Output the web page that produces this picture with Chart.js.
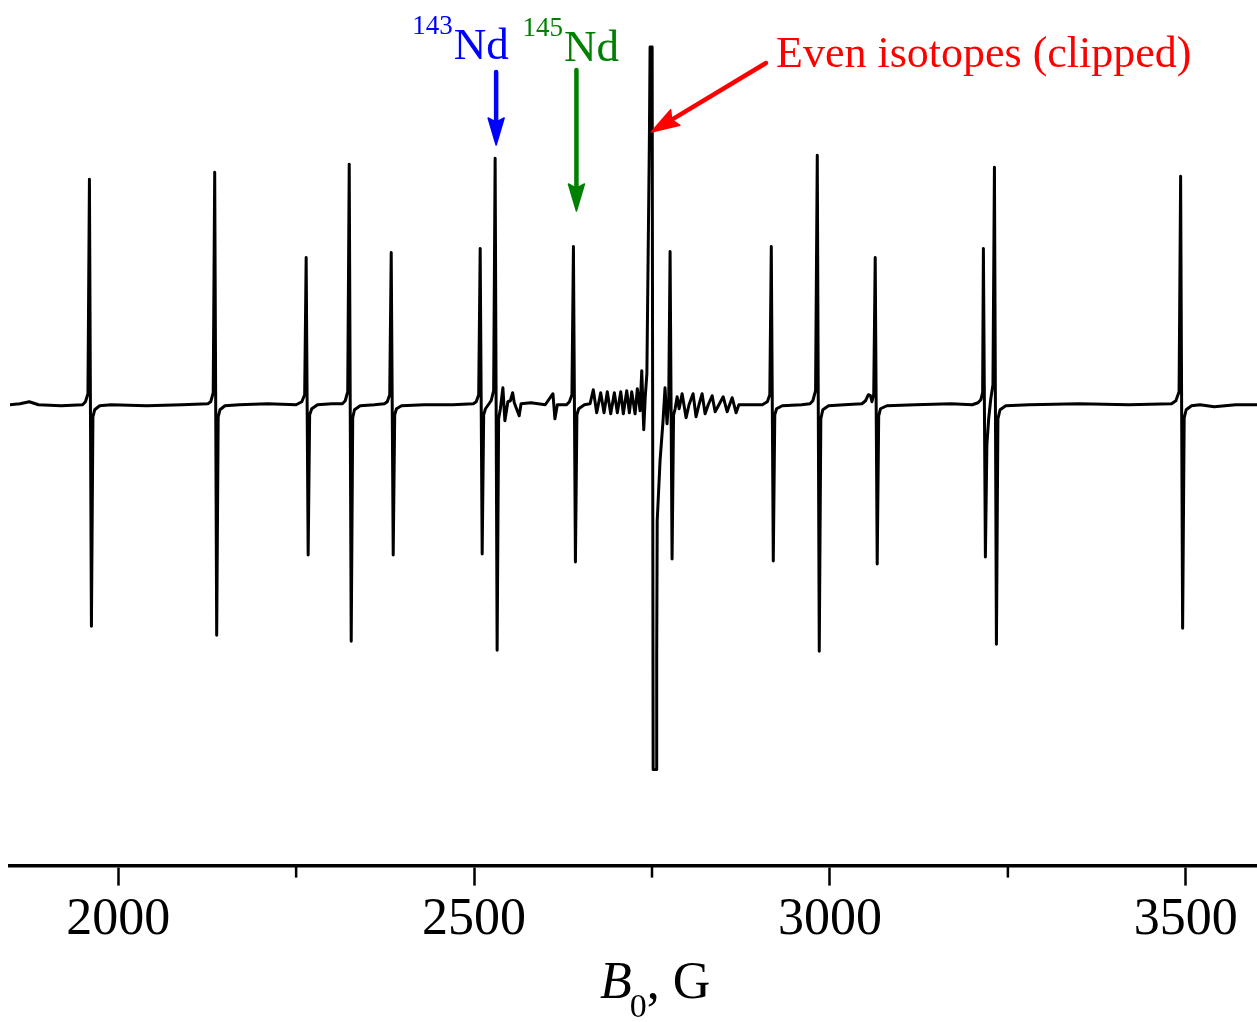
<!DOCTYPE html>
<html>
<head>
<meta charset="utf-8">
<script src="https://cdn.jsdelivr.net/npm/chart.js@4.4.1/dist/chart.umd.min.js"></script>
<style>
  html, body { margin: 0; padding: 0; background: #fff; }
  #wrap { width: 1257px; height: 1022px; }
</style>
</head>
<body>
<div id="wrap"><canvas id="eprChart"></canvas></div>
<script>
// EPR spectrum: field in G, signal in arbitrary units (0 = baseline)

// 1848-2500 G: lines at 1961, 2137, 2265, 2326, 2385
const lowField = [1848, 1862, 1875, 1888, 1920, 1950,
  1954, 1957.5, 1959.6, 1962.4, 1964.5, 1967, 1974, 1990, 2040, 2090,
  2126, 2130, 2133.5, 2135.6, 2138.4, 2140.5, 2143, 2150, 2170, 2210, 2250,
  2258, 2262, 2264.1, 2266.9, 2269, 2272, 2280, 2300,
  2315, 2319, 2322.5, 2324.6, 2327.4, 2329.5, 2332, 2340, 2360,
  2374, 2378, 2381.5, 2383.6, 2386.4, 2388.5, 2391, 2398, 2430, 2470];
const lowSignal = [0, 1, 3, 0, -1, 0,
  3, 11, 225, -221, -12, -5, -1, 0, -1, 0,
  1, 3, 12, 232, -230, -12, -5, -1, 0, 1, 0,
  3, 10, 147, -150, -10, -4, 0, 1,
  1, 4, 13, 240, -236, -13, -5, -1, 0,
  1, 3, 10, 152, -150, -10, -4, -1, 0, 0];

// 2500-2900 G: 143Nd / 145Nd lines, hyperfine wiggles and the clipped even-isotope line
const midField = [2499, 2503, 2506.5, 2508.6, 2511.4, 2513.5, 2516, 2521,
  2524, 2527.5, 2529.6, 2532.4, 2534.5, 2537,
  2540.5, 2543.3, 2547.5, 2551, 2554.2, 2556.5, 2563.4, 2566, 2580, 2600, 2610.8, 2613.6, 2617, 2630,
  2634, 2637.5, 2639.6, 2642.4, 2644.5, 2647, 2655, 2663,
  2667.5, 2672.3, 2677.9, 2682.6, 2687.2, 2692, 2697.1, 2701.3, 2706.1, 2709.7,
  2714.5, 2718.2, 2721.5, 2726.2, 2729.4, 2733.2, 2735.6, 2738.4, 2740.5, 2742.8, 2746.3,
  2747.3, 2750.2, 2751.6, 2755.8, 2756.6, 2757.3, 2761.3, 2765.5, 2768.3, 2771.1, 2773.5,
  2775.4, 2778.2, 2780.3, 2782.5, 2785.3, 2788.1, 2792.3, 2797.9, 2802, 2807.7, 2811.9, 2816,
  2820.4, 2824.6, 2829, 2834.5, 2838.7, 2844, 2850, 2855.6, 2859, 2862.6, 2868.2, 2872, 2876.7, 2895];
const midSignal = [1, 3, 10, 156, -149, -10, -4, 1,
  4, 14, 246, -245, -14, -4,
  17, -16, 3, 4, 12, 2, -11, 1, 2, 0, 11, -14, 0, 0,
  3, 10, 158, -157, -10, -4, 0, 1,
  15, -8, 12, -8, 13, -9, 12, -8, 13, -9,
  14, -8, 13, -9, 16, -6, 34, -25, 8, 31, 264,
  357, 357, -364, -364, -250, -116, -56, -16, 17, -19, 5,
  153, -154, -10, -4, 8, -4, 11, -13, 0, 11, -12, 0,
  11, -9, 0, 9, -7, 0, 8, -7, 0, 7, -8, 0, 0, 0];

// 2900-3600 G: lines at 2919, 2984, 3065, 3217, 3232, 3494
const highField = [2905, 2912, 2915.5, 2917.6, 2920.4, 2922.5, 2925, 2933, 2960,
  2972, 2976, 2979.8, 2982.2, 2985, 2987.2, 2990, 2998, 3020, 3045,
  3050, 3054, 3057, 3059, 3061.5, 3063.6, 3066.4, 3068.5, 3071, 3080, 3120, 3170, 3200,
  3208, 3212, 3214.5, 3215.6, 3218.4, 3220.5, 3223, 3226, 3229, 3231.1, 3233.9, 3236, 3239, 3247,
  3280, 3350, 3420,
  3480, 3486, 3490.5, 3492.7, 3495.5, 3497.7, 3500.5, 3508, 3520, 3540, 3570, 3600];
const highSignal = [0, 3, 10, 158, -156, -10, -4, -1, 0,
  1, 4, 14, 249, -246, -14, -5, -1, 0, 1,
  4, 10, 9, 3, 10, 147, -159, -11, -4, -1, 0, 1, 0,
  2, 5, 12, 156, -152, -40, -14, 6, 20, 237, -239, -14, -5, -1,
  0, 1, 0,
  1, 4, 13, 228, -223, -13, -5, -1, 0, -2, 0, 0];

const majorTicks = [2000, 2500, 3000, 3500];
const minorTicks = [2250, 2750, 3250];

const fieldG = lowField.concat(midField, highField);
const signal = lowSignal.concat(midSignal, highSignal);
const points = fieldG.map((b, i) => ({ x: b, y: signal[i] }));

const serif = "'Liberation Serif', 'Times New Roman', serif";
Chart.defaults.font.family = serif;
Chart.defaults.color = '#000';

function arrow(ctx, x1, y1, x2, y2, color, width, headLen, headW) {
  const ang = Math.atan2(y2 - y1, x2 - x1);
  const bx = x2 - headLen * Math.cos(ang), by = y2 - headLen * Math.sin(ang);
  ctx.save();
  ctx.strokeStyle = color;
  ctx.fillStyle = color;
  ctx.lineWidth = width;
  ctx.lineCap = 'round';
  ctx.beginPath();
  ctx.moveTo(x1, y1);
  ctx.lineTo(bx + 4 * Math.cos(ang), by + 4 * Math.sin(ang));
  ctx.stroke();
  ctx.beginPath();
  ctx.moveTo(x2, y2);
  ctx.lineTo(bx + headW / 2 * Math.sin(ang), by - headW / 2 * Math.cos(ang));
  ctx.lineTo(bx + (headLen * 0.15) * Math.cos(ang), by + (headLen * 0.15) * Math.sin(ang));
  ctx.lineTo(bx - headW / 2 * Math.sin(ang), by + headW / 2 * Math.cos(ang));
  ctx.closePath();
  ctx.fill();
  ctx.lineWidth = 1.5;
  ctx.lineJoin = 'round';
  ctx.stroke();
  ctx.restore();
}

function isotopeLabel(ctx, mass, x, y, color) {
  ctx.fillStyle = color;
  ctx.font = '27px ' + serif;
  ctx.fillText(mass, x, y - 25);
  const w = ctx.measureText(mass).width;
  ctx.font = '45px ' + serif;
  ctx.fillText('Nd', x + w + 1, y);
}

// minor ticks, axis title and the annotations
const extras = {
  id: 'extras',
  afterDraw(chart) {
    const ctx = chart.ctx;
    const xs = chart.scales.x;
    const bottom = chart.chartArea.bottom;
    ctx.save();
    ctx.strokeStyle = '#000';
    ctx.lineWidth = 2.5;
    minorTicks.forEach(v => {
      const px = xs.getPixelForValue(v);
      ctx.beginPath();
      ctx.moveTo(px, bottom + 1);
      ctx.lineTo(px, bottom + 12);
      ctx.stroke();
    });

    // axis title: B0, G
    ctx.textBaseline = 'alphabetic';
    ctx.fillStyle = '#000';
    const tx = xs.getPixelForValue(2677);
    ctx.font = 'italic 52px ' + serif;
    ctx.fillText('B', tx, 998);
    let w = ctx.measureText('B').width;
    ctx.font = '34px ' + serif;
    ctx.fillText('0', tx + w - 2, 1017);
    w += ctx.measureText('0').width - 2;
    ctx.font = '52px ' + serif;
    ctx.fillText(', G', tx + w, 998);

    // isotope annotations
    const x143 = xs.getPixelForValue(2531);
    const x145 = xs.getPixelForValue(2641);
    isotopeLabel(ctx, '143', x143 - 84, 59, '#0000ff');
    isotopeLabel(ctx, '145', x145 - 52, 61, '#008000');
    arrow(ctx, x143, 72, x143, 145, '#0000ff', 4.5, 27, 16);
    arrow(ctx, x145 + 2, 70, x145 + 2, 211, '#008000', 4.5, 27, 16);

    ctx.fillStyle = '#ff0000';
    ctx.font = '44px ' + serif;
    ctx.fillText('Even isotopes (clipped)', 776, 67);
    arrow(ctx, 766, 63, xs.getPixelForValue(2749), 132, '#ff0000', 4.5, 28, 18);
    ctx.restore();
  }
};

new Chart(document.getElementById('eprChart'), {
  type: 'scatter',
  data: {
    datasets: [{
      data: points,
      showLine: true,
      borderColor: '#000',
      borderWidth: 3,
      borderJoinStyle: 'round',
      pointRadius: 0,
      tension: 0
    }]
  },
  options: {
    responsive: true,
    maintainAspectRatio: false,
    animation: false,
    layout: { padding: { left: 10, right: 0, top: 0, bottom: 66 } },
    plugins: { legend: { display: false }, tooltip: { enabled: false } },
    scales: {
      x: {
        type: 'linear',
        min: 1848,
        max: 3600,
        afterBuildTicks: axis => { axis.ticks = majorTicks.map(v => ({ value: v })); },
        ticks: {
          font: { size: 52 },
          color: '#000',
          padding: 4,
          maxRotation: 0,
          callback: v => String(v)
        },
        grid: { drawOnChartArea: false, drawTicks: true, tickLength: 20, tickWidth: 2.5, tickColor: '#000' },
        border: { display: true, color: '#000', width: 3.5 }
      },
      y: {
        display: false,
        min: -460,
        max: 404
      }
    }
  },
  plugins: [extras]
});
</script>
</body>
</html>
